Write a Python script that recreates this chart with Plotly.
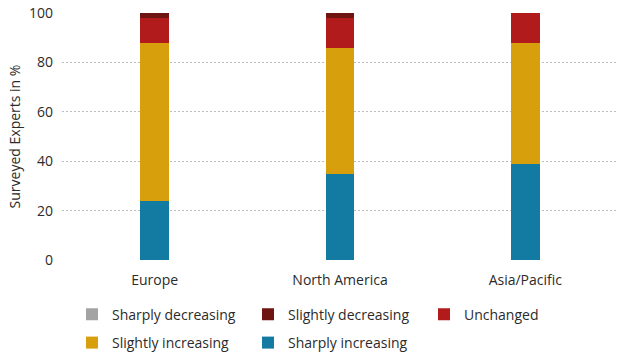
import plotly.graph_objects as go

regions = ["Europe", "North America", "Asia/Pacific"]

# Shares of surveyed experts per answer, in percent
sharply_increasing = [24, 35, 39]
slightly_increasing = [64, 51, 49]
unchanged = [10, 12, 12]
slightly_decreasing = [2, 2, 0]
sharply_decreasing = [0, 0, 0]

y_ticks = [0, 20, 40, 60, 80, 100]

FONT = "Open Sans"
TEXT = "#2b2b2b"

# (name, values, colour, legend id) stacked bottom to top
series = [
    ("Sharply increasing", sharply_increasing, "#137aa1", "legend2"),
    ("Slightly increasing", slightly_increasing, "#d69f0b", "legend2"),
    ("Unchanged", unchanged, "#b21b1c", "legend"),
    ("Slightly decreasing", slightly_decreasing, "#6f1511", "legend"),
    ("Sharply decreasing", sharply_decreasing, "#a3a3a3", "legend"),
]

fig = go.Figure()
for name, vals, color, leg in series:
    fig.add_trace(go.Bar(
        x=regions, y=vals, name=name, marker=dict(color=color, line=dict(width=0)),
        width=0.155, legend=leg,
    ))

legend_common = dict(
    orientation="h", xanchor="left", yanchor="middle",
    font=dict(family=FONT, size=14, color=TEXT),
    entrywidth=131, entrywidthmode="pixels", itemwidth=30,
    bgcolor="rgba(0,0,0,0)", traceorder="reversed",
)

fig.update_layout(
    barmode="stack",
    width=619, height=356,
    margin=dict(l=62, r=1, t=13, b=96, autoexpand=False),
    paper_bgcolor="white", plot_bgcolor="white",
    font=dict(family=FONT, size=14, color=TEXT),
    showlegend=True,
    legend=dict(x=0.018, y=-0.221, **legend_common),
    legend2=dict(x=0.018, y=-0.336, **legend_common),
    xaxis=dict(
        showgrid=False, zeroline=False, showline=False, ticks="",
        tickfont=dict(family=FONT, size=14, color=TEXT),
        ticklabelstandoff=10, automargin=False,
    ),
    yaxis=dict(
        range=[0, 100], tickvals=y_ticks,
        showgrid=True, gridcolor="#bdbdbd", griddash="2px,2px", gridwidth=1,
        zeroline=False, showline=False, ticks="",
        tickfont=dict(family=FONT, size=14, color=TEXT),
        ticklabelstandoff=8, automargin=False,
        title=dict(text="Surveyed Experts in %", font=dict(family=FONT, size=14, color=TEXT), standoff=5),
    ),
)

fig.write_html("out.html")
